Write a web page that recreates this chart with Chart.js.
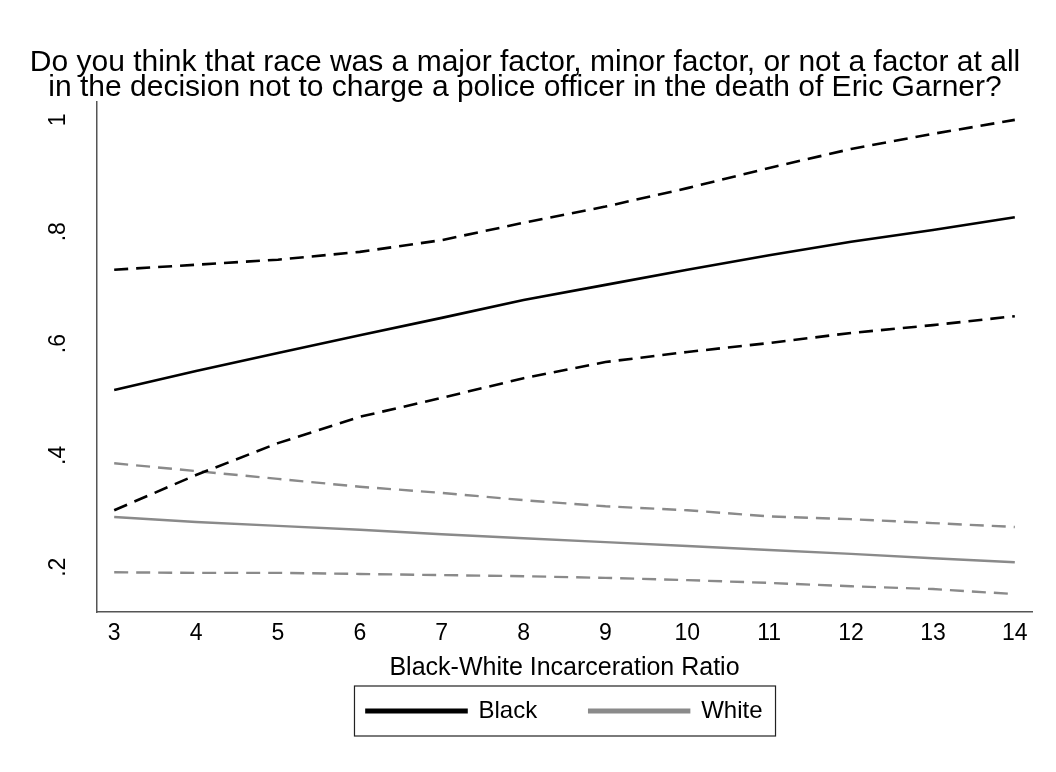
<!DOCTYPE html>
<html>
<head>
<meta charset="utf-8">
<script src="https://cdn.jsdelivr.net/npm/chart.js@4"></script>
<style>
  html, body { margin: 0; padding: 0; background: #fff; }
  #chart { display: block; }
</style>
</head>
<body>
<canvas id="chart" width="1056" height="772"></canvas>
<script>
// x values: Black-White incarceration ratio
const ratios = [3, 4, 5, 6, 7, 8, 9, 10, 11, 12, 13, 14];

// predicted probability + confidence bounds
const blackFit   = [0.517, 0.551, 0.583, 0.615, 0.646, 0.678, 0.705, 0.732, 0.758, 0.782, 0.803, 0.826];
const blackUpper = [0.732, 0.741, 0.750, 0.764, 0.785, 0.816, 0.845, 0.878, 0.914, 0.948, 0.975, 1.000];
const blackLower = [0.302, 0.365, 0.422, 0.469, 0.503, 0.538, 0.567, 0.585, 0.601, 0.619, 0.633, 0.649];
const whiteFit   = [0.290, 0.281, 0.274, 0.267, 0.259, 0.252, 0.245, 0.238, 0.231, 0.224, 0.216, 0.209];
const whiteUpper = [0.386, 0.372, 0.358, 0.344, 0.333, 0.320, 0.309, 0.302, 0.291, 0.286, 0.279, 0.272];
const whiteLower = [0.191, 0.190, 0.190, 0.188, 0.186, 0.184, 0.181, 0.177, 0.172, 0.166, 0.161, 0.152];

const xTicks = [3, 4, 5, 6, 7, 8, 9, 10, 11, 12, 13, 14];
const yTicks = [0.2, 0.4, 0.6, 0.8, 1];

const titleLines = [
  'Do you think that race was a major factor, minor factor, or not a factor at all',
  'in the decision not to charge a police officer in the death of Eric Garner?'
];

const FONT = '"Liberation Sans", Arial, Helvetica, sans-serif';

const toPoints = (ys) => ratios.map((x, i) => ({ x, y: ys[i] }));

const makeLine = (label, ys, color, width, dash) => ({
  label,
  data: toPoints(ys),
  borderColor: color,
  backgroundColor: color,
  borderWidth: width,
  borderDash: dash,
  pointRadius: 0,
  tension: 0,
  fill: false
});

// frame around the legend, like the Stata legend box
const legendFrame = {
  id: 'legendFrame',
  afterDraw(chart) {
    const boxes = chart.legend && chart.legend.legendHitBoxes;
    if (!boxes || !boxes.length) return;
    const first = boxes[0];
    const last = boxes[boxes.length - 1];
    const left = first.left - 12;
    const right = last.left + last.width + 13;
    const mid = first.top + first.height / 2;
    const ctx = chart.ctx;
    ctx.save();
    ctx.strokeStyle = '#222';
    ctx.lineWidth = 1.2;
    ctx.strokeRect(left, mid - 25, right - left, 50);
    ctx.restore();
  }
};

const ctx = document.getElementById('chart').getContext('2d');
new Chart(ctx, {
  type: 'line',
  data: {
    datasets: [
      makeLine('Black', blackFit, '#000', 2.6, []),
      makeLine('White', whiteFit, '#8a8a8a', 2.4, []),
      makeLine('Black upper', blackUpper, '#000', 2.6, [14, 8]),
      makeLine('Black lower', blackLower, '#000', 2.6, [14, 8]),
      makeLine('White upper', whiteUpper, '#8a8a8a', 2.4, [14, 8]),
      makeLine('White lower', whiteLower, '#8a8a8a', 2.4, [14, 8])
    ]
  },
  options: {
    responsive: false,
    animation: false,
    devicePixelRatio: 1,
    layout: { padding: { left: 18, right: 24, top: 0, bottom: 39 } },
    plugins: {
      title: {
        display: true,
        text: titleLines,
        color: '#000',
        font: { family: FONT, size: 30, weight: 'normal', lineHeight: '25px' },
        padding: { top: 50.5, bottom: 1.5 }
      },
      legend: {
        position: 'bottom',
        fullSize: false,
        labels: {
          color: '#000',
          font: { family: FONT, size: 24 },
          boxWidth: 100,
          boxHeight: 2.5,
          padding: 52,
          filter: (item) => item.text === 'Black' || item.text === 'White'
        }
      },
      tooltip: { enabled: false }
    },
    scales: {
      x: {
        type: 'linear',
        min: 2.79,
        max: 14.21,
        afterBuildTicks: (scale) => { scale.ticks = xTicks.map(v => ({ value: v })); },
        afterFit: (scale) => { scale.height = 35; },
        grid: { display: false, drawTicks: false },
        border: { display: true, color: '#555', width: 1.5 },
        ticks: {
          color: '#000',
          padding: 8,
          maxRotation: 0,
          autoSkip: false,
          font: { family: FONT, size: 23 }
        },
        title: {
          display: true,
          text: 'Black-White Incarceration Ratio',
          color: '#000',
          font: { family: FONT, size: 25 },
          padding: { top: 0, bottom: -36 }
        }
      },
      y: {
        type: 'linear',
        min: 0.12,
        max: 1.032,
        afterBuildTicks: (scale) => { scale.ticks = yTicks.map(v => ({ value: v })); },
        afterFit: (scale) => { scale.width = 79; },
        grid: { display: false, drawTicks: false },
        border: { display: true, color: '#555', width: 1.5 },
        ticks: {
          color: '#000',
          padding: 29,
          minRotation: 90,
          maxRotation: 90,
          crossAlign: 'center',
          font: { family: FONT, size: 23 },
          callback: (v) => v === 1 ? '1' : String(Number(v.toFixed(1))).replace(/^0/, '')
        }
      }
    }
  },
  plugins: [legendFrame]
});
</script>
</body>
</html>
